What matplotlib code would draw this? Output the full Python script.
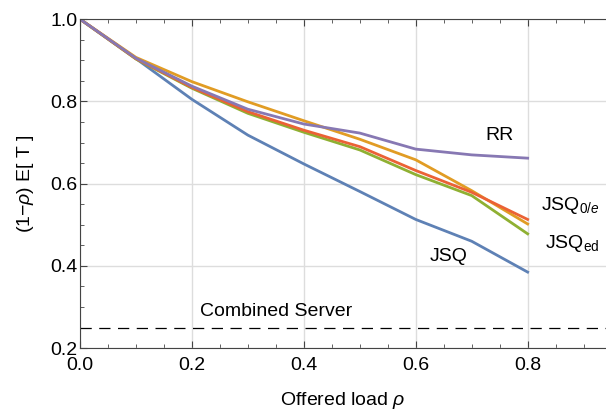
import numpy as np
import matplotlib
matplotlib.use('Agg')
from matplotlib import pyplot as plt
from matplotlib.ticker import MultipleLocator

plt.rcParams['font.family'] = ['Liberation Sans', 'DejaVu Sans']
plt.rcParams['mathtext.fontset'] = 'custom'
plt.rcParams['mathtext.rm'] = 'Liberation Sans'
plt.rcParams['mathtext.it'] = 'Liberation Sans:italic'

# offered load and (1-rho) E[T]
load = [0.0, 0.1, 0.2, 0.3, 0.4, 0.5, 0.6, 0.7, 0.8]
jsq = [1.0, 0.904, 0.805, 0.718, 0.648, 0.581, 0.513, 0.460, 0.385]
jsq_orange = [1.0, 0.907, 0.848, 0.799, 0.753, 0.708, 0.658, 0.583, 0.502]
jsq_ed = [1.0, 0.903, 0.832, 0.771, 0.725, 0.682, 0.622, 0.571, 0.478]
jsq_0e = [1.0, 0.904, 0.834, 0.775, 0.730, 0.690, 0.632, 0.579, 0.513]
rr = [1.0, 0.905, 0.837, 0.781, 0.745, 0.723, 0.684, 0.670, 0.662]
combined = 0.25

fs = 14

fig = plt.figure(figsize=(6.06, 4.16), dpi=100)
ax = fig.add_axes([0.132, 0.163, 0.868, 0.791])

ax.plot(load, jsq, color='#5E81B5', lw=2)
ax.plot(load, jsq_orange, color='#E19C24', lw=2)
ax.plot(load, jsq_ed, color='#8FB032', lw=2)
ax.plot(load, jsq_0e, color='#EB6235', lw=2)
ax.plot(load, rr, color='#8778B3', lw=2)
ax.axhline(combined, color='black', lw=0.9, dashes=(9, 6))

ax.text(0.35, 0.288, 'Combined Server', fontsize=fs, ha='center', va='center')
ax.text(0.75, 0.718, 'RR', fontsize=fs, ha='center', va='center')
ax.text(0.659, 0.424, 'JSQ', fontsize=fs, ha='center', va='center')
ax.text(0.876, 0.548, r'JSQ$_{\mathrm{0}/e}$', fontsize=fs, ha='center', va='center')
ax.text(0.879, 0.455, r'JSQ$_{\mathrm{ed}}$', fontsize=fs, ha='center', va='center')

ax.set_xlim(0, 0.94)
ax.set_ylim(0.2, 1.0)
ax.xaxis.set_major_locator(MultipleLocator(0.2))
ax.xaxis.set_minor_locator(MultipleLocator(0.05))
ax.yaxis.set_major_locator(MultipleLocator(0.2))
ax.yaxis.set_minor_locator(MultipleLocator(0.05))
ax.xaxis.set_major_formatter(matplotlib.ticker.FormatStrFormatter('%.1f'))
ax.yaxis.set_major_formatter(matplotlib.ticker.FormatStrFormatter('%.1f'))
ax.tick_params(which='both', direction='in', top=True, right=False, labelsize=fs, color='#444444')
ax.tick_params(axis='x', pad=6)
ax.tick_params(axis='y', pad=2)
ax.tick_params(which='major', length=5)
ax.tick_params(which='minor', length=3)
ax.grid(True, which='major', color='#dddddd', lw=1)
ax.set_axisbelow(True)
ax.spines['right'].set_visible(False)
for s in ['left', 'top', 'bottom']:
    ax.spines[s].set_color('#444444')

ax.set_xlabel(r'Offered load $\rho$', fontsize=fs, labelpad=12)
ax.set_ylabel(r'(1$-\rho$) E[ T ]', fontsize=fs, labelpad=10)

fig.savefig('out.png', dpi=100)
